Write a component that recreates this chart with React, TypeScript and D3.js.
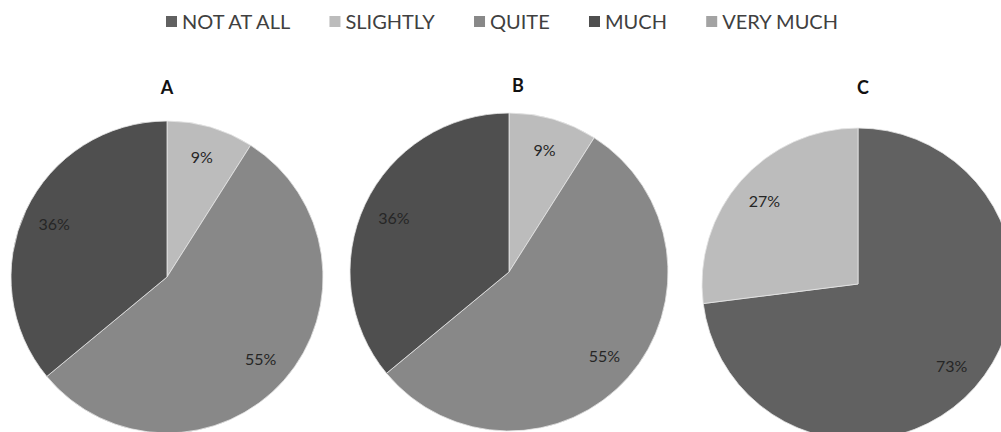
import React, { useEffect, useRef } from "react";
import * as d3 from "d3";

// Response categories, in slice order (clockwise from 12 o'clock)
const categories = ["NOT AT ALL", "SLIGHTLY", "QUITE", "MUCH", "VERY MUCH"];
const categoryColors = ["#616161", "#bcbcbc", "#888888", "#4f4f4f", "#a3a3a3"];

// Percentage share of each category per group
const groupNames = ["A", "B", "C"];
const valuesA = [0, 9, 55, 36, 0];
const valuesB = [0, 9, 55, 36, 0];
const valuesC = [73, 27, 0, 0, 0];
const groupValues = [valuesA, valuesB, valuesC];

// Placement of each pie: centre, radius and title anchor
const pieLayout = [
  { cx: 167, cy: 277, r: 156, tx: 167, ty: 94 },
  { cx: 509, cy: 272, r: 159, tx: 518, ty: 92 },
  { cx: 858, cy: 284, r: 156, tx: 863, ty: 94 },
];

// Legend spans this horizontal range
const legendLeft = 166;
const legendRight = 838;

const FONT = "Lato, 'Open Sans', 'DejaVu Sans', sans-serif";
const TEXT = "#404040";

export default function App() {
  const ref = useRef<SVGSVGElement>(null);

  useEffect(() => {
    const svg = d3.select(ref.current);
    svg.selectAll("*").remove();

    const color = d3.scaleOrdinal<string, string>().domain(categories).range(categoryColors);

    // Legend, laid out from measured label widths
    const legend = svg.append("g").attr("font-family", FONT).attr("font-size", 20);
    const items = legend
      .selectAll("g.item")
      .data(categories)
      .join("g")
      .attr("class", "item");
    items
      .append("rect")
      .attr("width", 11)
      .attr("height", 11)
      .attr("y", 16)
      .attr("fill", (d) => color(d));
    const labels = items
      .append("text")
      .attr("x", 16)
      .attr("y", 28.5)
      .attr("fill", TEXT)
      .text((d) => d);
    const widths = labels.nodes().map((n) => (n as SVGTextElement).getComputedTextLength());
    const itemsWidth = d3.sum(widths.map((w) => 16 + w));
    const gap = (legendRight - legendLeft - itemsWidth) / (categories.length - 1);
    let x = legendLeft;
    const offsets: number[] = [];
    widths.forEach((w) => {
      offsets.push(x);
      x += 16 + w + gap;
    });
    items.attr("transform", (_, i) => `translate(${offsets[i]},0)`);

    const pie = d3
      .pie<number>()
      .value((d) => d)
      .sort(null);

    groupValues.forEach((vals, gi) => {
      const L = pieLayout[gi];
      const g = svg.append("g").attr("transform", `translate(${L.cx},${L.cy})`);
      const arcs = pie(vals).filter((a) => a.data > 0);
      const arc = d3.arc<d3.PieArcDatum<number>>().innerRadius(0).outerRadius(L.r);
      const labelArc = d3
        .arc<d3.PieArcDatum<number>>()
        .innerRadius(L.r * 0.8)
        .outerRadius(L.r * 0.8);

      g.selectAll("path")
        .data(arcs)
        .join("path")
        .attr("d", arc)
        .attr("fill", (d) => color(categories[d.index]))
        .attr("stroke", "#e6e6e6")
        .attr("stroke-width", 0.8);

      g.selectAll("text")
        .data(arcs)
        .join("text")
        .attr("transform", (d) => `translate(${labelArc.centroid(d)})`)
        .attr("text-anchor", "middle")
        .attr("dy", "0.36em")
        .attr("font-family", FONT)
        .attr("font-size", 16)
        .attr("fill", "#262626")
        .text((d) => `${d.data}%`);

      svg
        .append("text")
        .attr("x", L.tx)
        .attr("y", L.ty)
        .attr("text-anchor", "middle")
        .attr("font-family", FONT)
        .attr("font-size", 18)
        .attr("font-weight", "bold")
        .attr("fill", "#111")
        .text(groupNames[gi]);
    });
  }, []);

  return (
    <svg
      ref={ref}
      width={1001}
      height={432}
      style={{ position: "absolute", left: 0, top: 0, background: "#fff" }}
    />
  );
}
